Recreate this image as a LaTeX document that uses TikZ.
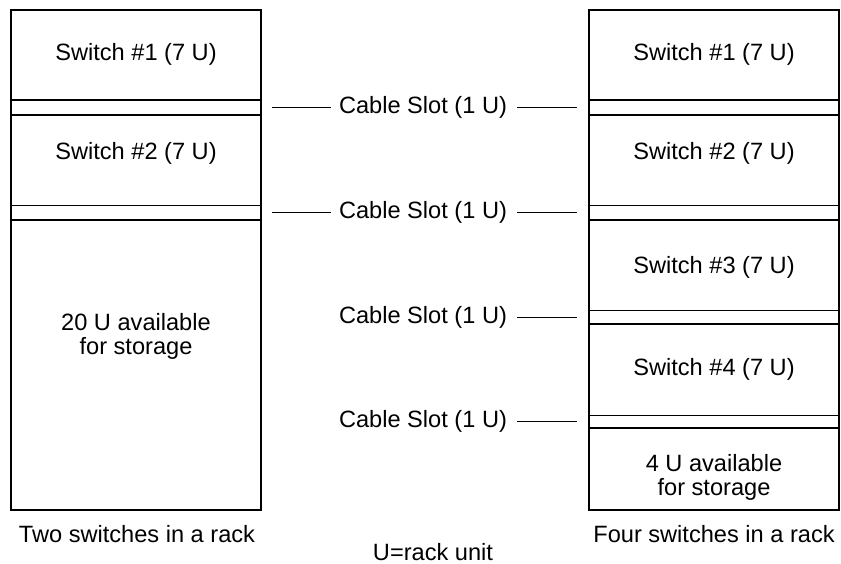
\documentclass[tikz,border=0pt]{standalone}
\usepackage{fontspec}
\setmainfont{Liberation Sans}
\begin{document}
\begin{tikzpicture}[x=0.5pt,y=-0.5pt,
  seg/.style={draw=black,rectangle,minimum width=125pt,inner sep=0pt,outer sep=0pt,line width=0.6pt,anchor=north},
  txt/.style={font=\fontsize{11.8}{12}\selectfont,align=center,inner sep=0pt},
  lead/.style={draw=black,line width=0.6pt}]
\useasboundingbox (0,0) rectangle (841,563);
% left rack
\node[seg,minimum height=45pt] (L1) at (136,10) {};
\node[seg,minimum height=7.5pt] (LS1) at (136,100) {};
\node[seg,minimum height=45.25pt] (L2) at (136,115) {};
\node[seg,minimum height=7.25pt] (LS2) at (136,205.5) {};
\node[seg,minimum height=145pt] (L3) at (136,220) {};
% right rack
\node[seg,minimum height=45pt] (R1) at (714,10) {};
\node[seg,minimum height=7.5pt] (RS1) at (714,100) {};
\node[seg,minimum height=45.25pt] (R2) at (714,115) {};
\node[seg,minimum height=7.25pt] (RS2) at (714,205.5) {};
\node[seg,minimum height=45.25pt] (R3) at (714,220) {};
\node[seg,minimum height=6.75pt] (RS3) at (714,310.5) {};
\node[seg,minimum height=45.75pt] (R4) at (714,324) {};
\node[seg,minimum height=6.25pt] (RS4) at (714,415.5) {};
\node[seg,minimum height=41pt] (R5) at (714,428) {};
% texts in the racks
\node[txt] (tL1) at (136,54) {Switch \#1 (7 U)};
\node[txt] (tL2) at (136,153) {Switch \#2 (7 U)};
\node[txt] (tL3) at (136,336) {20 U available\\for storage};
\node[txt] (tR1) at (714,54) {Switch \#1 (7 U)};
\node[txt] (tR2) at (714,153) {Switch \#2 (7 U)};
\node[txt] (tR3) at (714,267) {Switch \#3 (7 U)};
\node[txt] (tR4) at (714,369) {Switch \#4 (7 U)};
\node[txt] (tR5) at (714,477) {4 U available\\ for storage};
% cable slot labels
\node[txt] (C1) at (423,107.5) {Cable Slot (1 U)};
\node[txt] (C2) at (423,212.75) {Cable Slot (1 U)};
\node[txt] (C3) at (423,317.25) {Cable Slot (1 U)};
\node[txt] (C4) at (423,421.75) {Cable Slot (1 U)};
\draw[lead,shorten <=4pt,shorten >=5.5pt] (C1.west) -- (LS1.east);
\draw[lead,shorten <=5pt,shorten >=6pt] (C1.east) -- (RS1.west);
\draw[lead,shorten <=4pt,shorten >=5.5pt] (C2.west) -- (LS2.east);
\draw[lead,shorten <=5pt,shorten >=6pt] (C2.east) -- (RS2.west);
\draw[lead,shorten <=5pt,shorten >=6pt] (C3.east) -- (RS3.west);
\draw[lead,shorten <=5pt,shorten >=6pt] (C4.east) -- (RS4.west);
% captions
\node[txt] (capL) at (137,534) {Two switches in a rack};
\node[txt] (capR) at (714,534) {Four switches in a rack};
\node[txt] (unit) at (433,552) {U=rack unit};
\end{tikzpicture}
\end{document}
